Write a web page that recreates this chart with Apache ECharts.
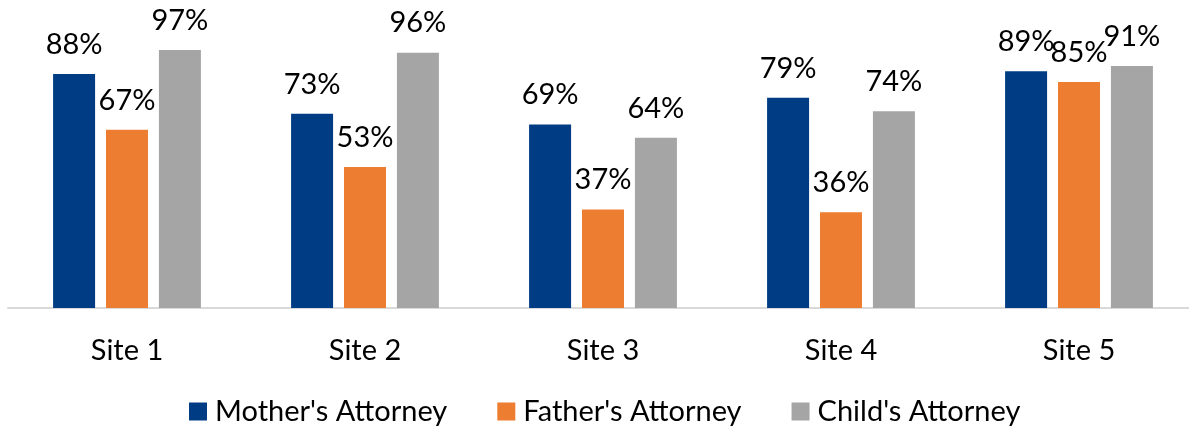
<!DOCTYPE html>
<html>
<head>
<meta charset="utf-8">
<script src="https://cdn.jsdelivr.net/npm/echarts@6/dist/echarts.min.js"></script>
<style>
  html, body { margin: 0; padding: 0; background: #fff; }
  #chart { width: 1189px; height: 429px; }
</style>
</head>
<body>
<div id="chart"></div>
<script>
const sites = ["Site 1", "Site 2", "Site 3", "Site 4", "Site 5"];
const seriesNames = ["Mother's Attorney", "Father's Attorney", "Child's Attorney"];
const mother = [88, 73, 69, 79, 89];
const father = [67, 53, 37, 36, 85];
const child = [97, 96, 64, 74, 91];
const colors = ["#003C83", "#ED7D31", "#A5A5A5"];

let dom = document.getElementById("chart");
let myChart = echarts.init(dom, null, { renderer: "canvas" });

const font = "Lato, 'Noto Sans', sans-serif";
const values = [mother, father, child];

const seriesList = seriesNames.map((name, i) => ({
  name: name,
  type: "bar",
  data: values[i],
  barWidth: 42,
  barGap: "26%",
  itemStyle: { color: colors[i] },
  label: {
    show: true,
    position: "top",
    distance: 15,
    formatter: "{c}%",
    color: "#000",
    fontSize: 29,
    fontFamily: font,
  },
}));

let option = {
  animation: false,
  color: colors,
  grid: {
    left: 8,
    width: 1190,
    top: 42,
    bottom: 121,
    containLabel: false,
    outerBoundsMode: "none",
  },
  legend: {
    top: 392,
    left: 184,
    itemWidth: 18,
    itemHeight: 18,
    itemGap: 50,
    icon: "rect",
    textStyle: {
      fontSize: 29,
      fontFamily: font,
      color: "#000",
      padding: [0, 0, 0, 3],
    },
    data: seriesNames,
  },
  xAxis: {
    type: "category",
    data: sites,
    axisLine: { lineStyle: { color: "#D9D9D9", width: 2 } },
    axisTick: { show: false },
    axisLabel: { color: "#000", fontSize: 29, fontFamily: font, margin: 28 },
  },
  yAxis: {
    type: "value",
    min: 0,
    max: 100,
    show: false,
    splitLine: { show: false },
  },
  series: seriesList,
};

myChart.setOption(option);

window.addEventListener("resize", function () {
  if (myChart) {
    myChart.resize();
  }
});
</script>
</body>
</html>
